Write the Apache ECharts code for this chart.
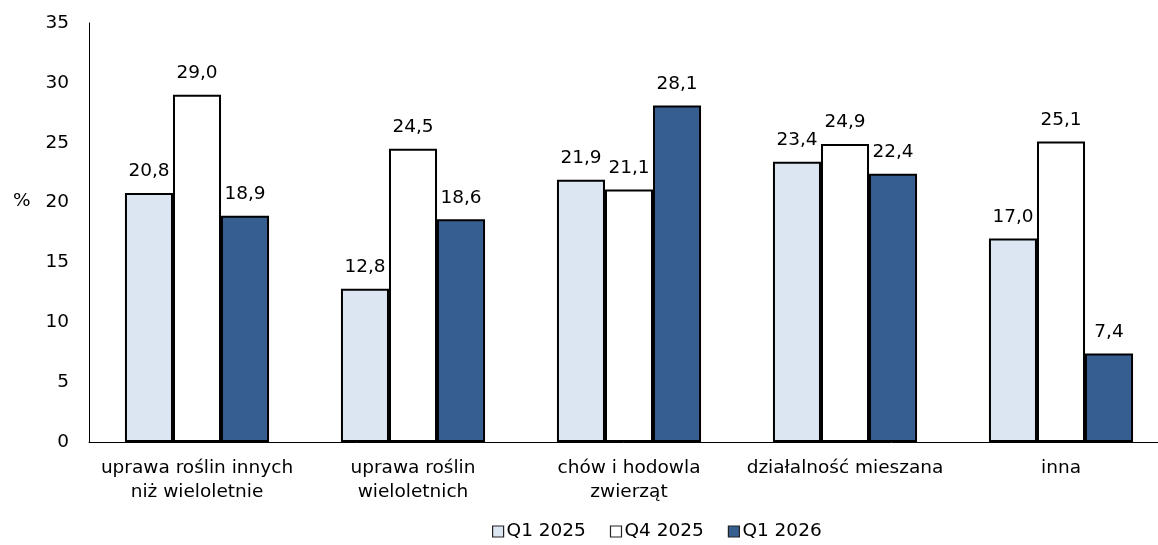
<!DOCTYPE html>
<html><head><meta charset="utf-8">
<script src="https://cdn.jsdelivr.net/npm/echarts@6/dist/echarts.min.js"></script>
<style>html,body{margin:0;padding:0;background:#fff}#c{width:1158px;height:545px}</style>
</head><body><div id="c"></div>
<script>
const categories = ['uprawa roślin innych\nniż wieloletnie', 'uprawa roślin\nwieloletnich', 'chów i hodowla\nzwierząt', 'działalność mieszana', 'inna'];
const seriesNames = ['Q1 2025', 'Q4 2025', 'Q1 2026'];
const q1_2025 = [20.8, 12.8, 21.9, 23.4, 17.0];
const q4_2025 = [29.0, 24.5, 21.1, 24.9, 25.1];
const q1_2026 = [18.9, 18.6, 28.1, 22.4, 7.4];
const colors = ['#dce6f2', '#ffffff', '#365f90'];
const FONT = 'DejaVu Sans';
const FS = 18.5;
const fmt = p => p.value.toFixed(1).replace('.', ',');
const chart = echarts.init(document.getElementById('c'));
const mk = (name, data, i) => ({
  name, type: 'bar', data, barGap: '0%', barCategoryGap: '33.3%',
  itemStyle: { color: colors[i], borderColor: '#000', borderWidth: 2 },
  label: { show: true, position: 'top', distance: 12, formatter: fmt, fontFamily: FONT, fontSize: FS, color: '#000' }
});
chart.setOption({
  animation: false,
  textStyle: { fontFamily: FONT },
  grid: { left: 89, right: -11, top: 23, bottom: 103, outerBoundsMode: 'none', containLabel: false },
  legend: {
    top: 517, left: 487, itemWidth: 11, itemHeight: 11, itemGap: 24,
    icon: 'rect',
    itemStyle: { borderWidth: 1.2, borderColor: '#222' },
    textStyle: { fontFamily: FONT, fontSize: FS, color: '#000', padding: [0, 0, 0, -2] },
    data: seriesNames
  },
  graphic: [{ type: 'text', left: 13, top: 192, style: { text: '%', fontFamily: FONT, fontSize: FS, fill: '#000' } }],
  xAxis: {
    type: 'category', data: categories,
    axisLine: { lineStyle: { color: '#000', width: 1 } },
    axisTick: { show: false },
    axisLabel: { fontFamily: FONT, fontSize: FS, color: '#000', margin: 14, lineHeight: 24, interval: 0 }
  },
  yAxis: {
    type: 'value', min: 0, max: 35, interval: 5,
    axisLine: { show: true, lineStyle: { color: '#000', width: 1 } },
    axisTick: { show: false },
    splitLine: { show: false },
    axisLabel: { fontFamily: FONT, fontSize: FS, color: '#000', margin: 20 }
  },
  series: [mk(seriesNames[0], q1_2025, 0), mk(seriesNames[1], q4_2025, 1), mk(seriesNames[2], q1_2026, 2)]
});
</script></body></html>
